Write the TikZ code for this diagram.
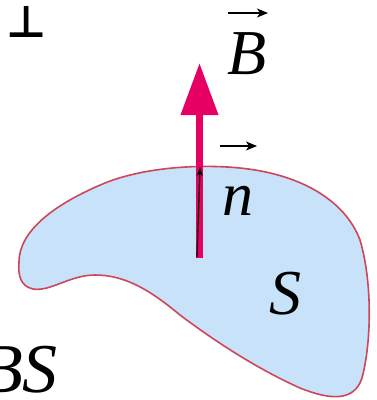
\documentclass[tikz,border=0pt]{standalone}
\usepackage{fontspec}
\setmainfont{Liberation Serif}
\newfontfamily\symfont{DejaVu Sans}
\usetikzlibrary{arrows.meta}
\definecolor{blobfill}{RGB}{200,226,250}
\definecolor{blobline}{RGB}{205,70,90}
\definecolor{magentaarrow}{RGB}{230,0,100}
\tikzset{
  lbl/.style={inner sep=0pt, font=\itshape\fontsize{62}{62}\selectfont},
  vecbar/.style={line width=1.4pt, -{Stealth[length=11pt,width=9pt,inset=3pt]}},
}
\begin{document}
\begin{tikzpicture}[x=1pt,y=-1pt]
\useasboundingbox (0,0) rectangle (377,400);
% blob surface
\draw[fill=blobfill, draw=blobline, line width=1.6pt]
  (19,262) .. controls (19,232) and (52,205) .. (105,183)
  .. controls (145,167) and (200,164) .. (240,168)
  .. controls (300,174) and (345,200) .. (360,240)
  .. controls (372,280) and (372,340) .. (362,378)
  .. controls (354,402) and (330,400) .. (300,388)
  .. controls (260,370) and (220,345) .. (180,315)
  .. controls (150,290) and (125,275) .. (95,275)
  .. controls (70,275) and (50,292) .. (33,289)
  .. controls (20,286) and (18,275) .. (19,262) -- cycle;
% B arrow (magenta)
\coordinate (mb) at (199.5,258);
\coordinate (mt) at (199.5,63);
\draw[magentaarrow, line width=7pt, -{Triangle[length=52pt,width=36pt]}] (mb) -- (mt);
% normal vector n
\coordinate (nb) at (197,257);
\coordinate (nt) at (200,167);
\draw[black, line width=1.3pt, -{Stealth[length=9pt,width=6pt]}] (nb) -- (nt);
% labels
\node[lbl, font=\itshape\fontsize{64}{64}\selectfont] (B) at (247,54) {B};
\coordinate (Bl) at (228,13);
\coordinate (Br) at (268,13);
\draw[vecbar] (Bl) -- (Br);
\node[lbl] (n) at (238,201) {n};
\coordinate (nl) at (220,146);
\coordinate (nr) at (257,146);
\draw[vecbar] (nl) -- (nr);
\node[lbl, font=\itshape\fontsize{64}{64}\selectfont] (S) at (285,294) {S};
\node[lbl, font=\itshape\fontsize{70}{70}\selectfont, anchor=east] (BS) at (58,370) {BS};
% perpendicular symbol
\node[inner sep=0pt, font=\symfont\bfseries\fontsize{44}{44}\selectfont] (perp) at (27,22) {⊥};
\end{tikzpicture}
\end{document}
